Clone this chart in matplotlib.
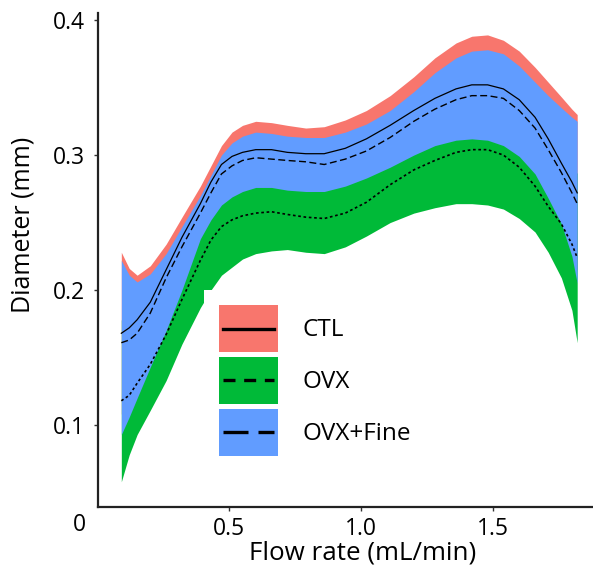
import matplotlib
matplotlib.use("Agg")
from matplotlib import pyplot as plt
from matplotlib.patches import Patch
from matplotlib.lines import Line2D
from matplotlib.legend_handler import HandlerTuple, HandlerLine2D

plt.rcParams['font.family'] = ['Open Sans', 'DejaVu Sans']

# flow rate grid (mL/min)
flow = [0.09, 0.12, 0.15, 0.20, 0.26, 0.32, 0.39, 0.43, 0.47, 0.51, 0.55,
        0.60, 0.66, 0.72, 0.79, 0.86, 0.94, 1.02, 1.11, 1.20, 1.28, 1.36,
        1.42, 1.48, 1.54, 1.60, 1.66, 1.71, 1.76, 1.80, 1.82]

# CTL: fitted mean and band
ctl_mid = [0.168, 0.172, 0.178, 0.191, 0.215, 0.239, 0.264, 0.280, 0.293, 0.299, 0.302,
           0.304, 0.304, 0.302, 0.301, 0.301, 0.305, 0.312, 0.322, 0.333, 0.342, 0.349,
           0.352, 0.352, 0.349, 0.341, 0.328, 0.312, 0.294, 0.280, 0.272]
ctl_hi = [0.228, 0.216, 0.211, 0.218, 0.234, 0.254, 0.277, 0.292, 0.307, 0.317, 0.322,
          0.325, 0.324, 0.322, 0.320, 0.321, 0.326, 0.333, 0.344, 0.358, 0.372, 0.383,
          0.388, 0.389, 0.385, 0.377, 0.365, 0.354, 0.343, 0.334, 0.330]
ctl_lo = [0.108, 0.128, 0.145, 0.164, 0.196, 0.224, 0.251, 0.268, 0.279, 0.281, 0.282,
          0.283, 0.284, 0.282, 0.282, 0.281, 0.284, 0.291, 0.300, 0.308, 0.312, 0.315,
          0.316, 0.315, 0.313, 0.305, 0.291, 0.270, 0.245, 0.226, 0.214]

# OVX
ovx_mid = [0.118, 0.122, 0.131, 0.145, 0.167, 0.193, 0.222, 0.237, 0.247, 0.252, 0.255,
           0.257, 0.258, 0.256, 0.254, 0.253, 0.257, 0.265, 0.278, 0.289, 0.296, 0.302,
           0.304, 0.304, 0.300, 0.291, 0.277, 0.262, 0.249, 0.234, 0.224]
ovx_hi = [0.178, 0.166, 0.169, 0.179, 0.201, 0.226, 0.257, 0.274, 0.283, 0.287, 0.287,
          0.287, 0.287, 0.282, 0.280, 0.279, 0.282, 0.290, 0.306, 0.321, 0.331, 0.340,
          0.344, 0.345, 0.340, 0.329, 0.311, 0.296, 0.289, 0.283, 0.287]
ovx_lo = [0.058, 0.078, 0.093, 0.111, 0.133, 0.160, 0.187, 0.200, 0.211, 0.217, 0.223,
          0.227, 0.229, 0.230, 0.228, 0.227, 0.232, 0.240, 0.250, 0.257, 0.261, 0.264,
          0.264, 0.263, 0.260, 0.253, 0.243, 0.228, 0.209, 0.185, 0.161]

# OVX+Fine
fine_mid = [0.161, 0.163, 0.168, 0.183, 0.209, 0.232, 0.257, 0.272, 0.286, 0.292, 0.296,
            0.298, 0.297, 0.296, 0.295, 0.293, 0.297, 0.303, 0.313, 0.325, 0.334, 0.341,
            0.344, 0.344, 0.342, 0.333, 0.320, 0.304, 0.287, 0.272, 0.264]
fine_hi = [0.222, 0.211, 0.206, 0.212, 0.227, 0.247, 0.270, 0.285, 0.300, 0.309, 0.314,
           0.317, 0.316, 0.314, 0.313, 0.313, 0.317, 0.323, 0.333, 0.347, 0.361, 0.372,
           0.377, 0.378, 0.375, 0.366, 0.354, 0.344, 0.335, 0.328, 0.325]
fine_lo = [0.093, 0.106, 0.120, 0.143, 0.170, 0.200, 0.238, 0.252, 0.263, 0.269, 0.273,
           0.276, 0.276, 0.274, 0.273, 0.273, 0.277, 0.283, 0.291, 0.300, 0.307, 0.311,
           0.312, 0.311, 0.307, 0.299, 0.286, 0.268, 0.249, 0.225, 0.205]

groups = ['CTL', 'OVX', 'OVX+Fine']
colors = ['#F8766D', '#00BA38', '#619CFF']


# legend line drawn through the middle of the filled key box
class CenterLine(HandlerLine2D):
    def create_artists(self, legend, orig_handle, xdescent, ydescent,
                       width, height, fontsize, trans):
        yc = height / 2 - ydescent
        line = Line2D([-xdescent + 3, width - xdescent - 3], [yc, yc])
        self.update_prop(line, orig_handle, legend)
        line.set_transform(trans)
        return [line]


fig = plt.figure(figsize=(5.93, 5.74), dpi=100)
ax = fig.add_axes([0.1646, 0.1167, 0.8354, 0.8606])

# ribbons first (ggplot order), lines on top
ax.fill_between(flow, ctl_lo, ctl_hi, color=colors[0], lw=0)
ax.fill_between(flow, ovx_lo, ovx_hi, color=colors[1], lw=0)
ax.fill_between(flow, fine_lo, fine_hi, color=colors[2], lw=0)

ax.plot(flow, ctl_mid, color='black', lw=0.9, ls='-')
ax.plot(flow, ovx_mid, color='black', lw=1.2, ls=(0, (1.6, 1.6)))
ax.plot(flow, fine_mid, color='black', lw=1.0, ls=(0, (5, 2.5)))

ax.set_xlim(0, 1.88)
ax.set_ylim(0.0393, 0.4052)
ax.set_xticks([0.5, 1.0, 1.5])
ax.set_xticklabels(['0.5', '1.0', '1.5'])
ax.set_yticks([0.1, 0.2, 0.3, 0.4])
ax.set_yticklabels(['0.1', '0.2', '0.3', '0.4'])
ax.tick_params(axis='both', labelsize=16.5, length=3, width=1, color='#333333')
ax.tick_params(axis='y', pad=6)
ax.tick_params(axis='x', pad=4)
for s in ['top', 'right']:
    ax.spines[s].set_visible(False)
for s in ['left', 'bottom']:
    ax.spines[s].set_linewidth(1.6)
    ax.spines[s].set_color('#222222')

fig.text(0.0388, 0.608, 'Diameter (mm)', rotation=90, ha='center', va='center', fontsize=18)
fig.text(0.612, 0.0366, 'Flow rate (mL/min)', ha='center', va='center', fontsize=18.7)
fig.text(0.134, 0.085, '0', ha='center', va='center', fontsize=16.5)

# legend: filled box with the line style across it
leg_dash = ['-', (0, (3.6, 2.6)), (0, (7.5, 3))]
handles = []
for c, d in zip(colors, leg_dash):
    handles.append((Patch(facecolor=c, edgecolor='none'),
                    Line2D([0], [0], color='black', lw=2.4, ls=d)))
ax.legend(handles, groups,
          handler_map={tuple: HandlerTuple(ndivide=1, pad=0), Line2D: CenterLine()},
          loc='upper left', bbox_to_anchor=(204 / 593, 1 - 290 / 574),
          bbox_transform=fig.transFigure, borderaxespad=0, fontsize=17.5,
          handlelength=2.43, handleheight=2.6, labelspacing=0.2,
          handletextpad=1.0, borderpad=0.62, frameon=True, fancybox=False,
          facecolor='white', edgecolor='none', framealpha=1)

fig.savefig('out.png', dpi=100)
